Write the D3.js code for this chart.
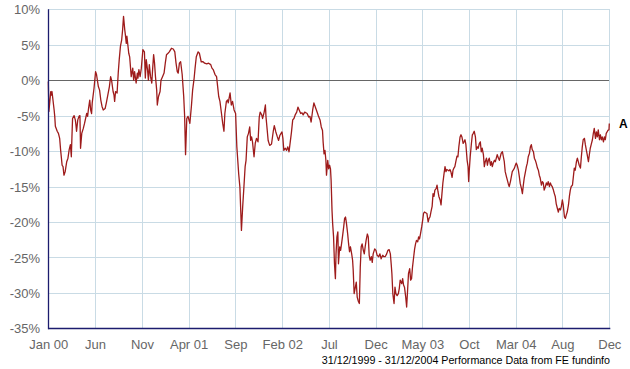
<!DOCTYPE html>
<html><head><meta charset="utf-8">
<script src="https://cdn.jsdelivr.net/npm/d3@7"></script>
<style>
html,body{margin:0;padding:0;background:#fff;}
svg{display:block;}
</style>
</head><body>
<svg id="chart" width="630" height="369"></svg>
<script>
// ---- data (days since 31/12/1999, cumulative performance in %) ----
const startDate = "1999-12-31";
const endDate = "2004-12-31";
const seriesName = "A";
const days = [
0,2,8,10,12,19,21,23,29,33,
37,40,45,48,51,55,60,64,68,72,
75,77,79,84,88,90,92,96,100,103,
105,109,114,118,125,128,131,135,138,141,
143,149,154,157,163,167,171,175,179,185,
189,193,199,203,206,211,214,216,219,224,
228,231,235,239,242,245,249,251,254,256,
262,265,270,275,278,281,286,290,292,295,
299,303,308,313,316,319,323,326,329,333,
337,340,343,346,349,353,355,359,364,367,
372,377,381,385,390,394,401,407,412,416,
420,423,427,431,436,441,444,447,451,455,
461,466,470,475,478,482,488,492,498,504,
509,516,522,529,533,537,543,548,555,559,
564,568,572,575,580,584,586,592,596,600,
605,610,
614,620,624,629,633,637,641,644,648,652,
656,659,662,665,670,674,678,683,687,690,
695,698,703,707,709,712,716,721,727,733,
736,741,746,750,754,758,761,764,767,772,
776,780,784,788,792,796,800,804,809,813,
817,822,826,830,835,839,843,848,852,856,
861,865,869,873,877,880,885,889,893,895,
898,901,904,906,910,913,916,919,921,924,
926,929,932,935,937,940,943,945,949,952,
955,958,962,965,968,971,975,978,981,984,
988,991,993,996,1000,1003,1006,1009,1013,1016,
1019,1022,1026,1029,1032,1035,1039,1042,1045,1048,
1052,1055,1058,1063,1067,1071,1076,1080,1084,1089,
1093,1097,1102,1106,1110,1114,1117,1119,1122,1126,
1129,1132,1136,1140,1143,1146,1151,1154,1157,1160,
1164,1167,1170,1173,1177,1180,1183,1186,1190,1193,
1196,1199,1203,1206,1209,1212,1216,1219,1222,1225,
1233,1237,1240,1243,1246,1250,1253,1256,1259,1263,
1266,1269,1272,1276,1279,1282,1285,1289,1292,1295,
1298,1302,1305,1308,1311,1315,1318,1321,1324,1328,
1331,1334,1337,1341,1344,1347,1351,1354,1357,1360,
1364,1367,1369,1371,1374,1378,1381,1384,1387,1391,
1394,1397,1400,1404,1407,1410,1413,1417,1420,1423,
1427,1430,1433,1436,1440,1443,1446,1449,1453,1456,
1459,1462,1466,1469,1472,1475,1479,1482,1485,1488,
1492,1495,1498,1501,1505,1508,1511,1514,1518,1521,
1524,1527,1531,1534,1537,1541,1544,1547,1550,1554,
1557,1560,1563,1567,1570,1573,1576,1580,1583,1586,
1589,1593,1596,1599,1602,1606,1609,1612,1615,1619,
1622,1625,1628,1632,1635,1638,1641,1645,1648,1651,
1654,1658,1661,1664,1668,1671,1674,1677,1681,1684,
1687,1690,1694,1697,1700,1703,1707,1710,1713,1716,
1720,1723,1726,1729,1733,1736,1739,1742,1746,1749,
1752,1755,1759,1762,1765,1768,1772,1775,1778,1782,
1785,1788,1791,1795,1798,1801,1804,1808,1811,1814,
1817,1821,1824,1826,1827
];
const values = [
-0.2,-4.4,-1.6,-2.1,-1.6,-4.2,-5.1,-6.5,-7.2,-7.5,
-8.2,-9.8,-12.0,-12.2,-13.4,-12.9,-11.5,-11.0,-9.8,-9.1,
-10.8,-8.0,-5.4,-5.0,-5.6,-6.3,-7.2,-5.6,-5.1,-5.0,
-9.6,-7.5,-6.8,-6.1,-4.7,-5.1,-4.0,-2.8,-4.2,-4.7,
-3.2,-1.1,1.2,0.8,-0.9,-1.4,-2.8,-3.7,-4.2,-4.0,
-3.2,-2.3,-0.9,0.5,0.0,-1.6,-2.1,-3.0,-1.6,-1.8,
1.2,2.9,4.8,5.7,7.1,9.0,7.1,6.4,5.2,6.2,
3.8,3.3,0.5,1.7,0.0,1.2,-0.4,1.0,0.3,1.5,
0.5,1.7,4.3,4.0,0.3,2.9,1.5,0.0,2.2,0.5,
-0.4,1.7,3.6,2.4,0.5,-1.4,-3.5,-2.3,-1.6,0.0,
0.5,1.0,2.4,3.6,3.8,4.0,4.5,4.4,4.0,2.4,
1.2,1.0,2.4,2.6,0.8,-2.3,-5.1,-10.5,-5.4,-5.1,
-6.1,-3.7,-1.4,0.3,1.7,3.3,4.0,3.8,2.6,2.6,
2.4,2.3,2.4,2.2,1.7,1.5,0.8,0.5,-2.3,-3.0,
-4.7,-6.1,-7.2,-4.7,-3.0,-2.8,-3.2,-1.8,-3.5,-3.0,
-4.2,-4.7,
-9.4,-13.2,-15.1,-21.2,-17.9,-15.1,-12.2,-11.3,-8.0,-7.5,
-6.6,-8.5,-8.0,-8.7,-10.8,-8.9,-8.2,-8.7,-5.2,-4.5,
-4.9,-5.4,-4.5,-3.5,-5.2,-6.6,-8.5,-9.2,-9.0,-7.1,
-6.4,-7.3,-8.0,-8.5,-7.8,-7.5,-7.3,-8.2,-9.9,-9.6,
-9.9,-9.4,-10.1,-8.7,-7.3,-5.6,-5.4,-4.9,-4.5,-3.8,
-4.2,-4.7,-4.6,-4.9,-4.5,-4.6,-4.7,-5.2,-5.1,-5.9,
-4.2,-3.2,-3.7,-4.2,-4.7,-5.1,-5.6,-6.6,-7.1,-8.7,
-10.4,-9.9,-11.3,-13.4,-11.3,-12.5,-12.0,-12.5,-14.1,-18.4,
-20.2,-22.1,-25.9,-28.0,-24.5,-22.1,-21.4,-25.9,-23.5,-24.0,
-23.1,-22.1,-20.7,-19.5,-19.3,-20.2,-21.7,-23.1,-24.2,-23.5,
-24.5,-25.4,-26.8,-30.1,-29.2,-28.5,-30.6,-31.1,-31.5,-26.4,
-23.5,-23.1,-24.0,-24.5,-23.5,-22.6,-21.7,-22.1,-24.7,-25.4,
-24.9,-25.7,-24.5,-23.8,-24.0,-24.7,-24.9,-24.5,-25.2,-24.7,
-24.9,-24.9,-24.5,-24.0,-23.9,-24.5,-26.1,-27.3,-30.1,-31.5,
-29.2,-30.1,-30.4,-30.1,-29.4,-28.2,-28.7,-28.0,-28.9,-29.2,
-30.6,-32.0,-29.7,-27.3,-26.6,-28.2,-28.0,-26.4,-24.9,-23.8,
-23.1,-22.6,-22.8,-22.1,-22.4,-21.7,-20.7,-19.8,-18.8,-18.6,
-18.8,-20.0,-19.5,-19.3,-18.6,-17.8,-16.0,-16.4,-15.5,-15.3,
-14.8,-15.7,-16.4,-16.9,-17.6,-16.0,-14.5,-13.1,-12.2,-12.9,
-12.6,-12.7,-12.8,-12.6,-12.9,-13.7,-12.7,-12.4,-12.2,-11.3,
-10.7,-10.8,-9.4,-8.0,-7.7,-8.0,-8.9,-8.7,-8.4,-9.1,
-11.3,-12.2,-14.3,-12.7,-10.8,-8.9,-7.7,-7.5,-7.2,-8.0,
-9.8,-9.4,-9.6,-8.9,-8.7,-10.1,-9.6,-10.5,-12.2,-11.5,
-11.0,-12.0,-11.3,-11.0,-12.0,-11.5,-12.2,-11.7,-11.3,-11.5,
-11.0,-10.5,-11.0,-11.3,-10.8,-10.3,-10.1,-10.8,-11.5,-12.9,
-13.6,-14.1,-14.6,-15.0,-14.3,-13.6,-12.9,-12.7,-12.4,-12.0,
-11.7,-12.0,-12.7,-13.6,-14.6,-15.3,-16.0,-14.8,-13.8,-12.9,
-12.2,-11.7,-10.8,-10.3,-9.4,-9.1,-9.8,-10.1,-11.0,-11.3,
-11.7,-12.4,-12.7,-13.4,-13.8,-14.8,-14.3,-14.5,-15.5,-15.0,
-14.5,-14.8,-14.3,-15.0,-14.5,-14.8,-15.0,-15.5,-16.0,-16.4,
-17.4,-18.1,-18.6,-18.1,-18.3,-17.8,-16.9,-17.6,-19.3,-19.5,
-19.0,-18.6,-17.6,-16.4,-15.5,-15.0,-14.8,-13.6,-12.4,-12.7,
-11.5,-11.0,-11.5,-12.0,-12.4,-10.8,-9.4,-8.4,-8.2,-9.1,
-9.8,-10.5,-11.5,-10.5,-9.6,-9.1,-8.4,-7.5,-6.8,-8.2,
-7.3,-8.0,-7.0,-8.4,-7.7,-8.4,-8.0,-8.7,-8.0,-8.4,
-7.5,-7.2,-7.0,-7.0,-6.1
];
const yTicks = [10,5,0,-5,-10,-15,-20,-25,-30,-35];
const xTickDates = ["1999-12-31","2000-05-31","2000-10-31","2001-04-01","2001-08-31","2002-01-31",
  "2002-07-02","2002-12-01","2003-05-02","2003-10-01","2004-03-01","2004-07-31","2004-12-31"];
const xTickLabels = ["Jan 00","Jun","Nov","Apr 01","Sep","Feb 02","Jul","Dec","May 03","Oct","Mar 04","Aug","Dec"];
const footerText = "31/12/1999 - 31/12/2004 Performance Data from FE fundinfo";

// ---- drawing ----
const parse = d3.utcParse("%Y-%m-%d");
const t0 = parse(startDate), t1 = parse(endDate);
const data = d3.zip(days, values).map(([d, v]) => ({date: d3.utcDay.offset(t0, d), value: v}));

const L = 48.3, R = 609.3, T = 9.3, B = 328.3;
const x = d3.scaleUtc().domain([t0, t1]).range([L, R]);
const y = d3.scaleLinear().domain([-35, 10]).range([B, T]);

const svg = d3.select("#chart");
const font = "'Liberation Sans', Arial, sans-serif";

// grid
const grid = svg.append("g").attr("shape-rendering", "crispEdges");
grid.selectAll("line.h").data(yTicks).enter().append("line")
  .attr("x1", L).attr("x2", R)
  .attr("y1", d => Math.round(y(d)) + 0.5).attr("y2", d => Math.round(y(d)) + 0.5)
  .attr("stroke", "#c9dbe5").attr("stroke-width", 1);
grid.selectAll("line.v").data(xTickDates.map(parse)).enter().append("line")
  .attr("x1", d => Math.round(x(d)) + 0.5).attr("x2", d => Math.round(x(d)) + 0.5)
  .attr("y1", T).attr("y2", B)
  .attr("stroke", "#c9dbe5").attr("stroke-width", 1);

// zero line
svg.append("line").attr("x1", L).attr("x2", R)
  .attr("y1", Math.round(y(0)) + 0.5).attr("y2", Math.round(y(0)) + 0.5)
  .attr("stroke", "#666").attr("stroke-width", 1).attr("shape-rendering", "crispEdges");

// series line
svg.append("path").datum(data)
  .attr("fill", "none").attr("stroke", "#9e1b1b").attr("stroke-width", 1.3)
  .attr("stroke-linejoin", "round")
  .attr("d", d3.line().x(d => x(d.date)).y(d => y(d.value)));

// axes lines
svg.append("line").attr("x1", Math.round(L) + 0.5).attr("x2", Math.round(L) + 0.5)
  .attr("y1", T).attr("y2", B + 1)
  .attr("stroke", "#1c1c6e").attr("stroke-width", 1.3);
svg.append("line").attr("x1", L).attr("x2", R + 1)
  .attr("y1", Math.round(B) + 0.5).attr("y2", Math.round(B) + 0.5)
  .attr("stroke", "#1c1c6e").attr("stroke-width", 1.5);

// y labels via axis
const yAxis = d3.axisLeft(y).tickValues(yTicks).tickSize(0).tickPadding(0).tickFormat(d => d + "%");
const yg = svg.append("g").attr("transform", "translate(40,0)").call(yAxis);
yg.select(".domain").remove();
yg.selectAll("text").attr("font-family", font).attr("font-size", 13).attr("fill", "#666").attr("dy", "0.36em");

// x labels via axis
const xAxis = d3.axisBottom(x).tickValues(xTickDates.map(parse)).tickSize(0).tickPadding(0)
  .tickFormat((d, i) => xTickLabels[i]);
const xg = svg.append("g").attr("transform", "translate(0,340)").call(xAxis);
xg.select(".domain").remove();
xg.selectAll("text").attr("font-family", font).attr("font-size", 13).attr("fill", "#666").attr("dy", "0.71em");

// series label
const last = data[data.length - 1];
svg.append("text").attr("x", 619).attr("y", y(last.value) + 4.5)
  .attr("font-family", font).attr("font-size", 12).attr("font-weight", "bold").attr("fill", "#000")
  .text(seriesName);

// footer
svg.append("text").attr("x", 610).attr("y", 364).attr("text-anchor", "end")
  .attr("font-family", font).attr("font-size", 10.7).attr("fill", "#000")
  .text(footerText);
</script>
</body></html>
